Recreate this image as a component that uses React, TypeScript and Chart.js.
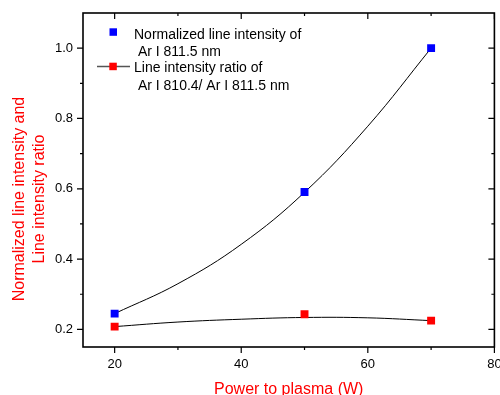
import React, { useEffect, useRef } from "react";
import { Chart, registerables } from "chart.js";
Chart.register(...registerables);

// ---- data ----
const powerW = [20, 50, 70];
const normIntensity = [0.245, 0.591, 1.0];
const intensityRatio = [0.208, 0.243, 0.225];
const fitPowerW = [20, 30, 40, 50, 60, 70];
const normIntensityFit = [0.245, 0.33, 0.442, 0.59, 0.778, 1.0];
const intensityRatioFit = [0.208, 0.221, 0.229, 0.234, 0.233, 0.225];
const xTickValues = [20, 40, 60, 80];
const xMinorTickValues = [30, 50, 70];
const yTickValues = [0.2, 0.4, 0.6, 0.8, 1.0];
const yMinorTickValues = [0.3, 0.5, 0.7, 0.9];
const xTitle = "Power to plasma (W)";
const yTitleLines = ["Normalized line intensity and", "Line intensity ratio"];
const legendNorm = ["Normalized line intensity of", " Ar I 811.5 nm"];
const legendRatio = ["Line intensity ratio of", " Ar I 810.4/ Ar I 811.5 nm"];

const FONT = "'Liberation Sans', Arial, sans-serif";
const BLUE = "#0000ff";
const RED = "#ff0000";

const framePlugin = {
  id: "frame",
  afterDraw(chart: any) {
    const { ctx, chartArea: a } = chart;
    const x = chart.scales.x;
    const y = chart.scales.y;
    ctx.save();
    ctx.strokeStyle = "#000";
    ctx.lineWidth = 1.6;
    ctx.strokeRect(a.left, a.top, a.right - a.left, a.bottom - a.top);
    ctx.lineWidth = 1.2;
    const major = 6;
    const minor = 3;
    ctx.beginPath();
    const xt = (v: number, len: number) => {
      const px = x.getPixelForValue(v);
      ctx.moveTo(px, a.bottom);
      ctx.lineTo(px, a.bottom + len);
      ctx.moveTo(px, a.top);
      ctx.lineTo(px, a.top + len);
    };
    const yt = (v: number, len: number) => {
      const py = y.getPixelForValue(v);
      ctx.moveTo(a.left, py);
      ctx.lineTo(a.left - len, py);
      ctx.moveTo(a.right, py);
      ctx.lineTo(a.right - len, py);
    };
    xTickValues.forEach((v) => xt(v, major));
    xMinorTickValues.forEach((v) => xt(v, minor));
    yTickValues.forEach((v) => yt(v, major));
    yMinorTickValues.forEach((v) => yt(v, minor));
    ctx.stroke();

    // legend
    ctx.fillStyle = BLUE;
    ctx.fillRect(109.5, 28.3, 7.5, 7.5);
    ctx.strokeStyle = "#555";
    ctx.lineWidth = 1.5;
    ctx.beginPath();
    ctx.moveTo(97, 66.5);
    ctx.lineTo(130, 66.5);
    ctx.stroke();
    ctx.fillStyle = RED;
    ctx.fillRect(109.3, 62.7, 7.5, 7.5);
    ctx.fillStyle = "#000";
    ctx.font = `14px ${FONT}`;
    ctx.textAlign = "left";
    ctx.textBaseline = "alphabetic";
    ctx.fillText(legendNorm[0], 134, 39);
    ctx.fillText(legendNorm[1], 134, 55.5);
    ctx.fillText(legendRatio[0], 134, 72);
    ctx.fillText(legendRatio[1], 134, 89.5);

    // axis titles
    ctx.fillStyle = RED;
    ctx.font = `16px ${FONT}`;
    ctx.textAlign = "center";
    ctx.fillText(xTitle, (a.left + a.right) / 2, 394);
    ctx.save();
    ctx.translate(0, 199);
    ctx.rotate(-Math.PI / 2);
    ctx.fillText(yTitleLines[0], 0, 24);
    ctx.fillText(yTitleLines[1], 0, 44);
    ctx.restore();
    ctx.restore();
  },
};

export default function App() {
  const ref = useRef<HTMLCanvasElement | null>(null);
  useEffect(() => {
    if (!ref.current) return;
    const pts = (xs: number[], ys: number[]) => xs.map((v, i) => ({ x: v, y: ys[i] }));
    const chart = new Chart(ref.current, {
      type: "scatter",
      data: {
        datasets: [
          {
            data: pts(powerW, normIntensity),
            showLine: false,
            pointStyle: "rect",
            pointRadius: 5.6,
            pointBackgroundColor: BLUE,
            pointBorderColor: BLUE,
            pointBorderWidth: 0,
          },
          {
            data: pts(powerW, intensityRatio),
            showLine: false,
            pointStyle: "rect",
            pointRadius: 5.6,
            pointBackgroundColor: RED,
            pointBorderColor: RED,
            pointBorderWidth: 0,
          },
          {
            data: pts(fitPowerW, normIntensityFit),
            showLine: true,
            borderColor: "#000",
            borderWidth: 1,
            pointRadius: 0,
            tension: 0.4,
          },
          {
            data: pts(fitPowerW, intensityRatioFit),
            showLine: true,
            borderColor: "#000",
            borderWidth: 1,
            pointRadius: 0,
            tension: 0.4,
          },
        ],
      } as any,
      options: {
        animation: false,
        responsive: false,
        devicePixelRatio: 1,
        layout: { padding: { left: 0, right: 5, top: 13, bottom: 0 } },
        plugins: { legend: { display: false }, tooltip: { enabled: false } },
        scales: {
          x: {
            type: "linear",
            min: 15,
            max: 80,
            grid: { display: false, drawTicks: false },
            border: { display: false },
            afterBuildTicks: (s: any) => {
              s.ticks = xTickValues.map((v) => ({ value: v }));
            },
            afterFit: (s: any) => {
              s.height = 48;
              s.paddingLeft = 0;
              s.paddingRight = 0;
              s.paddingTop = 0;
              s.paddingBottom = 0;
            },
            ticks: {
              color: "#000",
              font: { family: FONT, size: 13 },
              padding: 10,
              maxRotation: 0,
              callback: (v: any) => String(v),
            },
          },
          y: {
            type: "linear",
            min: 0.15,
            max: 1.1,
            grid: { display: false, drawTicks: false },
            border: { display: false },
            afterBuildTicks: (s: any) => {
              s.ticks = yTickValues.map((v) => ({ value: v }));
            },
            afterFit: (s: any) => {
              s.width = 83;
              s.paddingLeft = 0;
              s.paddingRight = 0;
              s.paddingTop = 0;
              s.paddingBottom = 0;
            },
            ticks: {
              color: "#000",
              font: { family: FONT, size: 13 },
              padding: 10,
              callback: (v: any) => Number(v).toFixed(1),
            },
          },
        },
      } as any,
      plugins: [framePlugin],
    });
    return () => chart.destroy();
  }, []);
  return (
    <div style={{ position: "absolute", left: 0, top: 0, width: 500, height: 395, background: "#fff" }}>
      <canvas ref={ref} width={500} height={395} />
    </div>
  );
}
